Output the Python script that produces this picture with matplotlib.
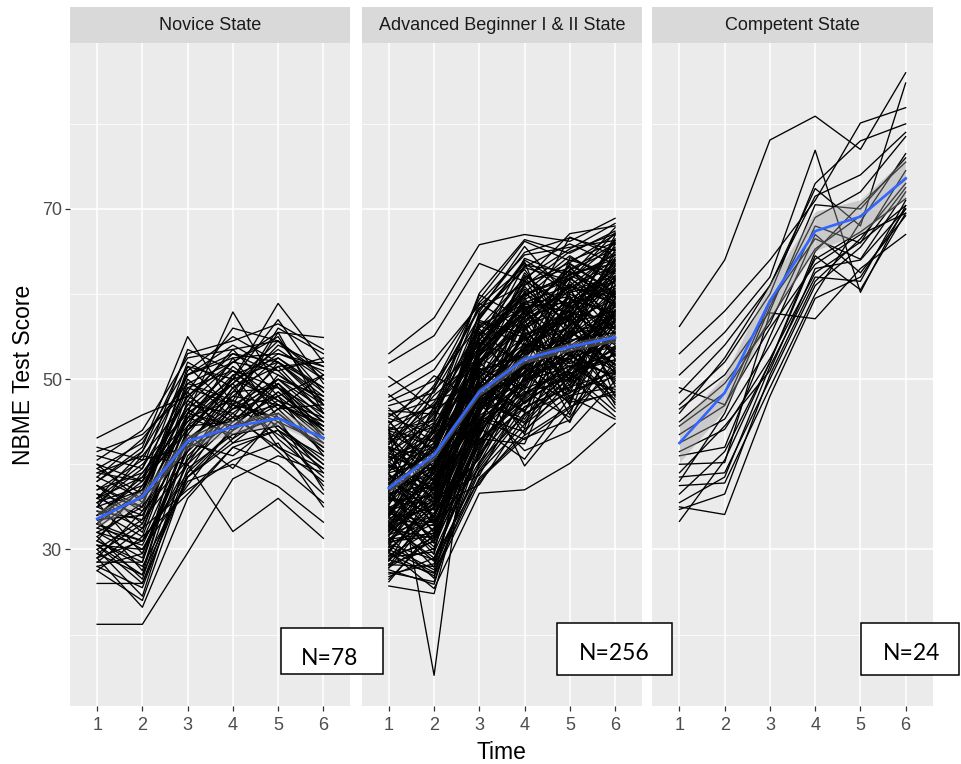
import matplotlib
matplotlib.use("Agg")
import matplotlib.pyplot as plt
from matplotlib.patches import Rectangle

# ---- data ----
time = [1, 2, 3, 4, 5, 6]
panels = ["Novice State", "Advanced Beginner I & II State", "Competent State"]
n_labels = ["N=78", "N=256", "N=24"]

# fitted line (blue) and its band half-width per state
novice_fit = [33.6, 36.2, 42.7, 44.4, 45.4, 43.1]
novice_se = [0.9, 0.8, 0.8, 0.8, 0.8, 0.9]
advanced_fit = [37.2, 41.1, 48.5, 52.35, 53.8, 54.9]
advanced_se = [0.5, 0.5, 0.5, 0.5, 0.5, 0.5]
competent_fit = [42.5, 48.4, 59.2, 67.4, 69.1, 73.6]
competent_se = [2.3, 2.0, 2.1, 2.3, 2.0, 2.4]

# individual trajectories (scores at time 1..6)
novice_scores = [
    [21.2, 21.2, 29.6, 38.3, 41.0, 39.0],
    [26.0, 26.0, 38.5, 44.0, 47.0, 44.5],
    [43.1, 45.8, 48.0, 53.0, 50.5, 47.0],
    [38.0, 42.0, 55.0, 47.0, 50.0, 48.0],
    [36.0, 40.0, 46.0, 57.9, 49.0, 46.0],
    [34.0, 38.0, 44.0, 50.0, 58.9, 52.0],
    [35.0, 37.0, 47.0, 52.0, 55.5, 54.9],
    [33.0, 30.0, 40.0, 32.1, 36.0, 31.3],
    [31.0, 28.0, 38.0, 40.0, 37.4, 33.2],
    [29.0, 23.2, 36.0, 42.0, 44.0, 40.0],
    [40.5, 44.0, 52.5, 53.5, 54.5, 50.0],
    [39.5, 36.5, 51.0, 55.0, 52.0, 49.0],
    [38.5, 43.0, 49.5, 47.5, 56.0, 53.0],
    [37.5, 34.5, 45.5, 51.5, 47.5, 45.5],
    [37.0, 40.5, 42.0, 49.0, 53.0, 51.0],
    [36.5, 32.0, 47.5, 44.0, 50.5, 47.5],
    [36.0, 38.5, 44.5, 52.5, 45.5, 42.0],
    [35.5, 29.5, 43.0, 46.5, 51.5, 46.0],
    [35.0, 41.0, 40.0, 45.0, 48.0, 44.0],
    [34.5, 33.5, 48.5, 42.5, 46.5, 50.5],
    [34.0, 36.0, 41.5, 50.5, 44.0, 41.0],
    [33.5, 27.5, 44.0, 48.0, 52.5, 48.5],
    [33.0, 39.0, 46.5, 43.0, 49.5, 43.0],
    [32.5, 31.0, 39.0, 47.0, 43.5, 39.5],
    [32.0, 35.0, 50.0, 45.5, 47.0, 45.0],
    [31.5, 26.5, 42.5, 41.0, 45.0, 42.5],
    [31.0, 37.5, 45.0, 49.5, 42.0, 38.0],
    [30.5, 30.0, 37.5, 44.5, 48.5, 44.0],
    [30.0, 24.5, 41.0, 46.0, 41.5, 36.5],
    [29.5, 33.0, 43.5, 39.5, 46.0, 41.5],
    [28.5, 28.5, 46.0, 50.0, 47.5, 43.5],
    [28.0, 25.5, 39.5, 43.5, 44.5, 40.5],
    [27.5, 31.5, 36.5, 42.0, 40.0, 35.5],
    [38.0, 41.5, 50.5, 54.0, 51.0, 52.5],
    [39.0, 38.0, 48.0, 52.0, 55.0, 47.0],
    [40.0, 35.5, 46.0, 49.5, 53.5, 50.0],
    [41.0, 39.5, 53.5, 51.0, 49.0, 45.0],
    [36.0, 34.0, 44.5, 48.5, 54.0, 51.5],
    [33.0, 37.0, 47.0, 46.0, 50.0, 46.5],
    [32.0, 29.0, 42.0, 44.5, 46.0, 42.0],
    [34.5, 31.5, 45.5, 47.5, 45.0, 39.0],
    [37.5, 35.0, 43.0, 45.5, 52.0, 48.0],
    [30.5, 27.0, 38.5, 42.5, 44.0, 37.5],
    [29.0, 34.5, 40.5, 48.5, 49.0, 43.5],
    [35.5, 39.5, 49.0, 51.0, 47.0, 44.5],
    [28.5, 32.5, 37.0, 40.5, 42.5, 35.0],
    [39.5, 42.5, 51.5, 50.0, 57.0, 49.5],
    [42.0, 40.5, 50.5, 52.5, 53.0, 51.5],
    [41.5, 43.5, 48.5, 56.0, 54.5, 48.5],
    [40.0, 38.0, 52.0, 49.0, 51.5, 52.0],
    [39.0, 41.0, 47.5, 53.5, 48.0, 50.5],
    [38.5, 36.0, 49.0, 47.0, 55.5, 46.0],
    [37.0, 39.0, 45.0, 50.5, 52.5, 49.0],
    [36.5, 35.0, 51.5, 46.5, 49.5, 44.0],
    [35.5, 37.5, 46.5, 51.0, 46.5, 47.0],
    [35.0, 32.5, 44.0, 49.5, 54.5, 50.5],
    [34.0, 38.5, 48.0, 45.0, 50.0, 45.5],
    [33.5, 34.0, 42.5, 48.0, 47.0, 42.5],
    [32.5, 36.5, 49.5, 52.0, 51.0, 46.0],
    [32.0, 30.5, 41.5, 46.5, 48.0, 41.0],
    [31.5, 35.5, 45.5, 43.5, 45.5, 43.0],
    [31.0, 28.5, 43.5, 50.0, 52.0, 47.5],
    [30.0, 33.5, 40.0, 47.5, 44.5, 40.0],
    [29.5, 27.0, 44.5, 45.0, 49.5, 45.0],
    [29.0, 31.0, 38.5, 43.0, 46.5, 41.5],
    [28.0, 29.5, 42.0, 49.0, 43.0, 38.5],
    [27.5, 24.0, 39.0, 44.0, 47.5, 43.0],
    [36.0, 41.5, 53.0, 54.5, 56.5, 53.5],
    [34.0, 37.0, 50.5, 53.0, 52.0, 47.0],
    [37.5, 33.0, 46.0, 44.5, 48.5, 44.5],
    [33.0, 31.0, 43.0, 47.0, 45.5, 37.0],
    [30.5, 26.0, 40.5, 45.5, 42.0, 39.5],
]

advanced_scores = [
    [53.0, 57.2, 65.8, 67.0, 66.2, 68.9],
    [51.9, 55.1, 63.6, 61.5, 67.1, 68.0],
    [50.3, 46.5, 60.1, 66.4, 64.8, 67.4],
    [49.1, 52.3, 58.7, 63.2, 65.9, 63.5],
    [44.3, 15.2, 55.2, 59.8, 62.3, 64.1],
    [48.2, 44.0, 51.5, 62.5, 57.0, 66.5],
    [47.4, 49.8, 56.3, 54.0, 63.6, 60.2],
    [46.6, 41.2, 57.9, 65.6, 59.4, 62.8],
    [45.8, 47.6, 49.2, 57.3, 61.8, 58.6],
    [45.1, 38.9, 53.7, 60.9, 55.2, 65.2],
    [44.6, 50.4, 47.3, 52.6, 58.7, 56.1],
    [43.9, 42.7, 54.8, 48.9, 64.3, 61.7],
    [43.2, 36.4, 50.1, 58.2, 52.6, 59.3],
    [42.7, 45.3, 58.9, 55.7, 60.5, 54.2],
    [42.1, 39.8, 46.2, 50.8, 56.4, 63.8],
    [41.6, 48.1, 52.6, 61.7, 53.9, 57.5],
    [41.0, 33.7, 44.9, 53.4, 59.8, 52.4],
    [40.5, 43.9, 55.6, 47.1, 51.2, 60.6],
    [39.9, 37.2, 48.4, 56.6, 61.2, 55.3],
    [39.4, 46.2, 43.6, 51.9, 49.7, 58.9],
    [38.8, 31.9, 51.8, 59.2, 57.8, 50.6],
    [38.3, 41.5, 45.7, 49.6, 54.6, 62.2],
    [37.9, 35.6, 57.1, 63.8, 50.4, 53.7],
    [37.4, 44.8, 42.3, 54.5, 58.1, 49.2],
    [36.9, 30.7, 47.6, 45.3, 52.9, 56.8],
    [36.5, 39.3, 53.2, 57.9, 48.3, 61.1],
    [36.0, 34.2, 40.8, 50.3, 55.7, 51.8],
    [35.6, 42.6, 49.7, 44.2, 60.9, 47.9],
    [35.1, 29.4, 54.3, 52.1, 47.1, 58.2],
    [34.7, 37.8, 44.1, 60.4, 53.3, 46.6],
    [34.2, 33.1, 39.6, 46.8, 49.0, 55.9],
    [33.8, 40.9, 51.0, 43.5, 56.9, 52.9],
    [33.3, 27.9, 46.5, 55.1, 45.8, 59.7],
    [32.9, 36.1, 38.7, 48.2, 51.6, 48.4],
    [32.4, 31.3, 52.9, 58.7, 47.7, 54.8],
    [32.0, 38.6, 43.0, 42.4, 54.2, 50.9],
    [31.5, 26.6, 48.9, 51.4, 44.9, 57.2],
    [31.1, 35.0, 37.6, 45.7, 50.2, 45.6],
    [30.6, 28.8, 41.9, 53.8, 57.3, 51.1],
    [30.2, 33.6, 50.6, 39.8, 46.3, 53.3],
    [29.7, 25.4, 36.6, 37.0, 40.1, 44.8],
    [29.3, 32.4, 45.1, 49.9, 52.4, 47.3],
    [28.8, 27.2, 39.1, 44.7, 48.8, 55.6],
    [28.3, 30.1, 47.2, 41.6, 43.9, 49.8],
    [27.6, 25.9, 42.8, 47.4, 50.8, 46.2],
    [26.8, 29.0, 38.2, 43.1, 45.2, 52.1],
    [25.7, 24.8, 44.3, 40.6, 47.9, 45.3],
    [44.9, 46.8, 52.2, 56.3, 59.1, 61.9],
    [43.7, 40.6, 48.8, 53.9, 56.2, 64.7],
    [42.4, 47.3, 55.9, 51.2, 62.7, 59.8],
    [41.3, 38.2, 45.8, 57.8, 53.5, 57.0],
    [40.2, 45.9, 51.3, 48.7, 58.4, 63.3],
    [39.7, 42.1, 57.6, 62.9, 55.6, 51.7],
    [38.6, 36.9, 47.9, 52.8, 61.5, 56.4],
    [37.7, 44.2, 53.9, 59.6, 49.8, 60.1],
    [36.8, 40.2, 49.3, 46.1, 57.6, 65.8],
    [35.9, 35.3, 56.7, 54.9, 51.8, 54.6],
    [35.3, 43.4, 46.9, 61.3, 63.1, 58.4],
    [34.4, 38.4, 52.4, 50.2, 55.3, 62.6],
    [33.6, 32.8, 44.7, 56.1, 48.6, 50.3],
    [32.7, 41.8, 50.9, 47.9, 59.3, 57.8],
    [31.8, 36.7, 55.4, 58.4, 54.1, 48.1],
    [30.9, 31.6, 43.4, 52.3, 60.2, 61.4],
    [30.3, 39.6, 48.6, 46.4, 50.6, 53.5],
    [29.9, 34.9, 53.6, 60.1, 56.8, 66.9],
    [29.1, 29.7, 41.2, 49.3, 53.8, 51.4],
    [28.6, 37.4, 46.7, 55.4, 47.4, 58.7],
    [33.9, 44.6, 54.5, 64.2, 62.1, 67.8],
    [37.1, 48.9, 58.2, 64.9, 66.6, 65.1],
    [40.8, 43.1, 56.1, 61.9, 65.3, 68.3],
    [42.9, 49.3, 59.4, 66.2, 63.9, 66.1],
    [46.3, 45.9, 59.9, 57.1, 66.7, 64.5],
    [38.1, 34.6, 49.8, 53.1, 58.9, 60.9],
    [36.2, 39.9, 44.6, 55.9, 62.4, 63.6],
    [34.9, 37.7, 51.6, 58.9, 59.7, 52.7],
    [32.2, 35.8, 48.1, 50.6, 55.1, 59.1],
    [31.3, 33.4, 42.1, 48.4, 51.1, 56.7],
    [27.9, 31.1, 40.3, 45.9, 49.4, 53.9],
    [27.1, 28.3, 43.8, 50.1, 54.3, 57.6],
    [26.2, 32.6, 45.4, 42.9, 46.6, 50.7],
    [29.5, 26.9, 37.9, 44.1, 48.1, 49.1],
    [47.9, 51.1, 59.0, 64.6, 65.5, 66.3],
    [46.9, 48.4, 57.3, 63.1, 61.6, 67.2],
    [45.4, 43.6, 55.1, 59.6, 64.0, 62.4],
    [44.1, 47.0, 53.3, 58.0, 62.9, 65.9],
    [43.4, 38.0, 51.9, 56.8, 60.8, 59.6],
    [42.6, 44.4, 50.4, 62.2, 58.3, 63.0],
    [41.8, 41.0, 56.9, 55.3, 57.3, 61.0],
    [41.1, 46.6, 49.0, 53.6, 62.0, 56.9],
    [40.3, 36.0, 54.1, 60.6, 56.6, 58.0],
    [39.6, 43.7, 47.4, 51.5, 54.8, 64.3],
    [39.0, 40.4, 52.8, 57.6, 63.3, 55.8],
    [38.4, 33.0, 46.1, 54.2, 52.0, 60.4],
    [37.6, 42.0, 51.2, 49.1, 60.0, 57.3],
    [37.2, 38.8, 55.3, 62.0, 55.9, 62.9],
    [36.6, 32.2, 43.9, 52.4, 58.6, 53.2],
    [36.1, 41.0, 50.0, 56.9, 49.2, 59.5],
    [35.7, 36.3, 47.0, 50.9, 53.0, 47.6],
    [35.2, 44.0, 53.0, 59.0, 61.0, 64.9],
    [34.8, 30.3, 42.6, 48.0, 56.0, 56.0],
    [34.3, 39.1, 49.5, 54.7, 50.0, 61.8],
    [33.7, 34.8, 45.9, 57.0, 59.5, 54.4],
    [33.2, 37.0, 52.0, 47.2, 52.8, 50.1],
    [32.8, 29.0, 41.4, 51.7, 54.9, 58.5],
    [32.3, 39.9, 48.3, 53.3, 57.1, 49.5],
    [31.7, 34.0, 44.3, 58.6, 49.6, 55.2],
    [31.2, 31.9, 50.4, 46.2, 55.6, 60.7],
    [30.8, 37.3, 46.0, 55.6, 51.4, 52.2],
    [30.4, 27.6, 40.1, 49.7, 53.6, 57.9],
    [29.8, 35.5, 47.8, 44.8, 50.3, 48.8],
    [29.2, 30.9, 43.2, 52.9, 58.0, 54.0],
    [28.7, 33.9, 51.4, 56.4, 46.9, 62.0],
    [28.2, 28.0, 39.9, 47.6, 52.1, 50.5],
    [27.8, 34.3, 45.6, 43.8, 49.9, 58.0],
    [27.3, 26.2, 41.7, 51.0, 56.5, 47.0],
    [26.5, 31.8, 44.0, 48.6, 45.5, 53.6],
    [45.6, 49.0, 58.4, 61.1, 63.7, 67.0],
    [44.0, 45.1, 57.5, 63.6, 60.1, 65.5],
    [42.3, 48.7, 54.0, 60.2, 64.5, 61.2],
    [40.9, 39.3, 52.1, 59.4, 61.7, 66.0],
    [39.1, 45.6, 56.4, 58.8, 57.9, 63.9],
    [37.0, 41.9, 53.5, 63.4, 62.6, 59.0],
    [35.8, 46.9, 55.0, 61.0, 65.0, 67.1],
    [34.0, 42.2, 57.0, 64.0, 60.7, 64.0],
    [32.6, 40.0, 49.1, 57.3, 63.5, 60.0],
    [31.0, 38.1, 53.8, 61.5, 58.6, 66.3],
    [40.0, 37.0, 46.6, 49.8, 51.5, 52.8],
    [38.9, 33.8, 44.2, 51.6, 48.0, 51.3],
    [36.3, 31.0, 42.9, 47.8, 53.4, 49.9],
    [34.6, 29.9, 47.3, 45.0, 51.3, 55.4],
    [33.0, 35.2, 40.6, 50.4, 47.3, 48.2],
    [41.4, 44.9, 51.7, 57.4, 60.4, 62.1],
    [40.6, 42.4, 53.4, 58.5, 59.0, 60.3],
    [39.3, 40.9, 50.7, 55.0, 58.2, 61.6],
    [38.2, 43.0, 52.3, 56.2, 61.0, 58.8],
    [37.3, 39.6, 49.4, 54.8, 56.9, 59.4],
    [36.4, 37.9, 48.7, 53.7, 57.7, 57.1],
    [35.4, 40.6, 51.1, 52.7, 56.3, 60.0],
    [34.5, 36.6, 47.7, 51.8, 55.4, 56.2],
    [33.4, 38.9, 50.2, 54.1, 53.1, 58.1],
    [32.5, 35.4, 46.4, 50.7, 54.6, 55.5],
    [31.6, 37.6, 48.0, 52.6, 52.4, 57.4],
    [30.7, 33.0, 45.2, 49.4, 53.2, 54.6],
    [29.6, 36.2, 47.1, 51.3, 55.8, 51.6],
    [28.9, 31.4, 44.6, 48.9, 50.9, 56.3],
    [43.0, 46.3, 53.8, 58.3, 60.7, 63.4],
    [44.4, 41.8, 56.0, 60.0, 62.2, 59.7],
    [42.0, 37.9, 48.2, 55.1, 57.4, 62.7],
    [39.8, 35.9, 45.3, 52.0, 54.4, 56.6],
    [37.8, 33.2, 43.7, 50.0, 52.7, 53.8],
    [35.0, 31.5, 41.1, 47.3, 50.7, 52.3],
    [33.1, 28.6, 39.3, 46.0, 48.4, 51.0],
    [30.0, 27.3, 38.4, 43.4, 46.8, 48.6],
    [46.0, 42.6, 50.9, 53.0, 55.0, 57.7],
    [45.0, 39.6, 47.9, 50.5, 52.3, 54.9],
    [43.6, 35.2, 45.0, 48.3, 50.1, 53.0],
    [41.9, 33.3, 42.4, 46.7, 49.1, 50.8],
    [36.7, 43.8, 54.6, 59.9, 61.9, 64.6],
    [34.1, 41.2, 52.7, 57.9, 62.8, 65.3],
    [32.1, 39.4, 51.9, 56.0, 58.8, 63.2],
    [28.1, 35.1, 46.3, 53.5, 57.6, 61.5],
]

competent_scores = [
    [56.2, 64.0, 78.1, 80.9, 77.0, 86.0],
    [53.0, 58.0, 64.0, 71.0, 80.1, 81.9],
    [50.5, 55.5, 62.0, 76.9, 60.2, 70.4],
    [48.4, 54.0, 61.0, 72.4, 68.0, 84.8],
    [47.0, 52.0, 60.0, 73.0, 78.0, 80.0],
    [46.5, 50.5, 58.0, 70.5, 70.0, 76.0],
    [45.0, 49.5, 56.5, 68.0, 66.0, 74.5],
    [44.5, 48.4, 57.0, 65.3, 69.2, 73.5],
    [43.5, 46.9, 59.0, 66.5, 64.1, 72.0],
    [42.5, 45.3, 54.0, 64.1, 67.3, 71.2],
    [41.5, 44.1, 52.4, 62.5, 66.1, 70.4],
    [41.0, 42.0, 55.0, 67.0, 62.5, 69.2],
    [40.0, 40.2, 57.8, 57.1, 63.0, 67.0],
    [39.0, 44.5, 51.0, 63.0, 64.0, 70.0],
    [38.5, 39.0, 50.0, 61.0, 65.5, 72.5],
    [37.5, 37.8, 49.0, 60.0, 68.5, 76.5],
    [36.5, 41.5, 52.0, 64.5, 60.5, 69.5],
    [35.5, 38.5, 51.5, 62.0, 61.5, 71.0],
    [35.0, 34.1, 48.0, 59.5, 62.0, 70.0],
    [34.7, 36.5, 50.5, 61.5, 66.5, 73.0],
    [33.3, 40.5, 52.0, 65.0, 70.5, 75.5],
    [38.0, 46.0, 58.5, 69.0, 72.0, 78.5],
    [46.0, 52.5, 61.0, 71.5, 74.0, 79.0],
    [49.0, 47.0, 56.0, 63.5, 67.0, 69.5],
]

all_scores = [novice_scores, advanced_scores, competent_scores]
all_fit = [novice_fit, advanced_fit, competent_fit]
all_se = [novice_se, advanced_se, competent_se]

# ---- layout (pixel positions of the original) ----
W, H = 961, 764
plt.rcParams['font.family'] = ['Liberation Sans', 'DejaVu Sans']
fig = plt.figure(figsize=(W / 100, H / 100), dpi=100)


def fx(x):
    return x / W


def fy(y):
    return 1 - y / H


lefts = [70, 361.7, 652.3]
pw = 280.5
top, bottom, strip_top = 43, 706, 7
# N boxes: x0, x1, y0, y1, text x, text baseline
boxes = [(280.7, 382.7, 628.3, 674.0, 330.0, 665.0),
         (557.3, 672.3, 622.7, 675.0, 614.5, 659.5),
         (860.7, 959.0, 622.7, 675.0, 911.7, 659.5)]

for i in range(3):
    ax = fig.add_axes([fx(lefts[i]), fy(bottom), pw / W, (bottom - top) / H])
    ax.set_facecolor('#EBEBEB')
    for s in ax.spines.values():
        s.set_visible(False)
    ax.set_xlim(0.4, 6.6)
    ax.set_ylim(11.6, 89.5)
    ax.set_xticks(time)
    ax.set_yticks([30, 50, 70])
    ax.set_yticks([20, 40, 60, 80], minor=True)
    ax.grid(which='major', color='white', lw=1.1)
    ax.grid(which='minor', axis='y', color='white', lw=0.55)
    ax.set_axisbelow(True)
    ax.tick_params(which='minor', length=0)
    ax.tick_params(which='major', length=3.6, width=0.9, color='#333333',
                   labelsize=13, labelcolor='#4D4D4D')
    ax.tick_params(axis='x', pad=4.5)
    ax.tick_params(axis='y', pad=2.2)
    if i > 0:
        ax.tick_params(axis='y', left=False, labelleft=False)

    for row in all_scores[i]:
        ax.plot(time, row, color='black', lw=0.95, zorder=2)
    lo = [m - s for m, s in zip(all_fit[i], all_se[i])]
    hi = [m + s for m, s in zip(all_fit[i], all_se[i])]
    ax.fill_between(time, lo, hi, color='#999999', alpha=0.4, lw=0, zorder=3)
    ax.plot(time, all_fit[i], color='#3366FF', lw=1.9, zorder=4)

    # facet strip
    st = fig.add_axes([fx(lefts[i]), fy(top), pw / W, (top - strip_top) / H])
    st.set_facecolor('#D9D9D9')
    st.set_xticks([])
    st.set_yticks([])
    for s in st.spines.values():
        s.set_visible(False)
    st.text(0.5, 0.5, panels[i], ha='center', va='center', fontsize=13,
            color='#1A1A1A', transform=st.transAxes)

    # pasted N= boxes
    x0, x1, y0, y1, tx, ty = boxes[i]
    fig.add_artist(Rectangle((fx(x0), fy(y1)), (x1 - x0) / W, (y1 - y0) / H,
                             transform=fig.transFigure, facecolor='white',
                             edgecolor='black', lw=1.1, zorder=5))
    fig.text(fx(tx), fy(ty), n_labels[i], ha='center', va='baseline', fontsize=16.5,
             family=['Lato', 'DejaVu Sans'], color='black', zorder=6)

fig.text(fx(501.5), fy(759.3), 'Time', ha='center', va='baseline', fontsize=16.5)
fig.text(fx(23.3), fy(375), 'NBME Test Score', rotation=90, ha='center',
         va='center', fontsize=16.5)

fig.savefig('out.png', dpi=100)
